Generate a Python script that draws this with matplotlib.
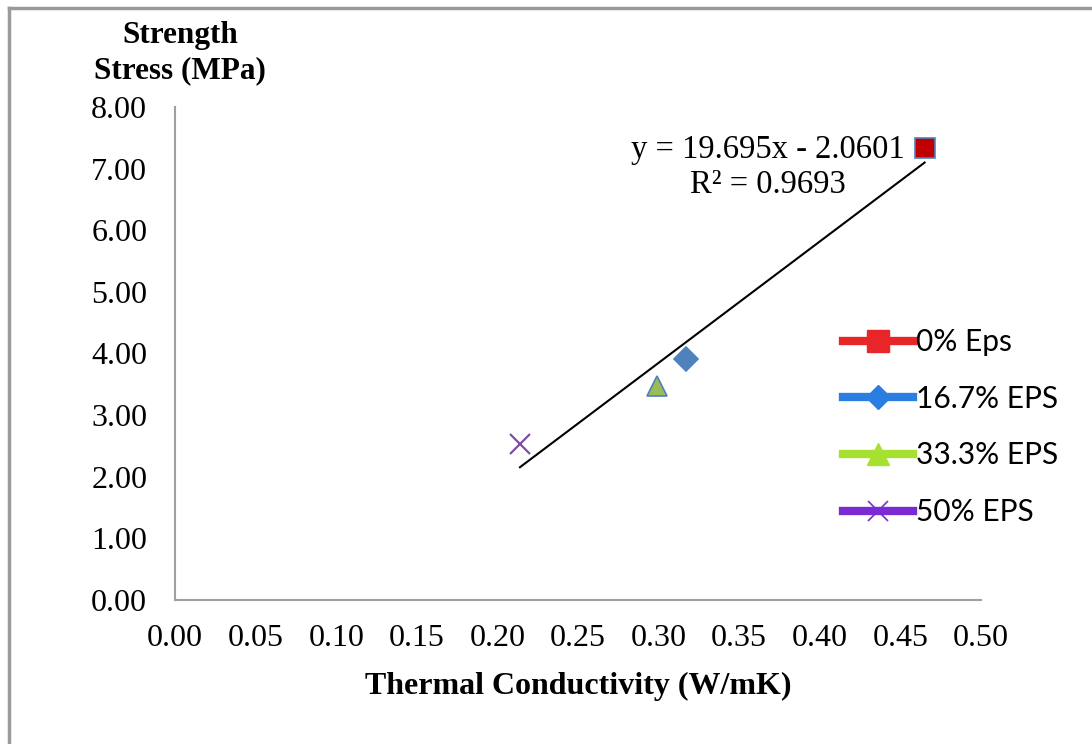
import matplotlib
matplotlib.use("Agg")
import matplotlib.pyplot as plt
from matplotlib.lines import Line2D
import numpy as np

series = ["0% Eps", "16.7% EPS", "33.3% EPS", "50% EPS"]
conductivity = [0.465, 0.317, 0.299, 0.214]
strength = [7.33, 3.91, 3.47, 2.53]
slope, intercept = 19.695, -2.0601
r2 = 0.9693

marker_face = ["#C00000", "#4F81BD", "#9BBB59", "#7F4FA0"]
marker_edge = ["#4F81BD", "#4F81BD", "#4F81BD", "#7F4FA0"]
markers = ["s", "D", "^", "x"]
legend_colors = ["#E8262A", "#2A7DE1", "#A5E12E", "#7A2BD3"]

plt.rcParams["font.family"] = ["Liberation Serif", "DejaVu Serif"]

fig = plt.figure(figsize=(10.92, 7.44), dpi=100)
ax = fig.add_axes([175/1092, 1 - 600/744, (981-175)/1092, (600-107)/744])

for i in range(len(series)):
    if markers[i] == "x":
        ax.plot(conductivity[i], strength[i], marker="x", color=marker_face[i],
                markersize=15, markeredgewidth=1.6, linestyle="none", zorder=3)
    else:
        ax.plot(conductivity[i], strength[i], marker=markers[i], markerfacecolor=marker_face[i],
                markeredgecolor=marker_edge[i], markersize=14 if markers[i] != "D" else 12,
                markeredgewidth=1.2, linestyle="none", zorder=3)

xs = np.array([min(conductivity), max(conductivity)])
ax.plot(xs, slope * xs + intercept, color="black", linewidth=1.5, zorder=2)

ax.text(0.368, 7.02, f"y = {slope}x - {abs(intercept)}\nR² = {r2}", ha="center", va="center",
        fontsize=23.5, linespacing=1.22)

ax.set_xlim(0, 0.5)
ax.set_ylim(0, 8)
ax.set_xticks(np.arange(0, 0.51, 0.05))
ax.set_yticks(np.arange(0, 8.1, 1))
ax.set_xticklabels([f"{v:.2f}" for v in np.arange(0, 0.51, 0.05)])
ax.set_yticklabels([f"{v:.2f}" for v in np.arange(0, 8.1, 1)])
ax.tick_params(axis="x", length=0, labelsize=23, pad=17)
ax.tick_params(axis="y", length=0, labelsize=23, pad=20)
for s in ["top", "right"]:
    ax.spines[s].set_visible(False)
for s in ["left", "bottom"]:
    ax.spines[s].set_color("#A0A0A0")
    ax.spines[s].set_linewidth(1.5)

ax.set_xlabel("Thermal Conductivity (W/mK)", fontsize=23, fontweight="bold", labelpad=14)
fig.text(180/1092, 1 - 53/744, "Strength\nStress (MPa)", ha="center", va="center",
         fontsize=22.5, fontweight="bold", linespacing=1.3)

handles = []
for i in range(len(series)):
    if markers[i] == "x":
        h = Line2D([], [], color=legend_colors[i], linewidth=6, marker="x",
                   markersize=15, markeredgewidth=1.2)
    else:
        h = Line2D([], [], color=legend_colors[i], linewidth=6, marker=markers[i],
                   markersize=16 if markers[i] != "D" else 12)
    handles.append(h)
leg = ax.legend(handles, series, loc="center left", bbox_to_anchor=(0.829, 0.351),
                frameon=False, prop={"family": ["Lato", "DejaVu Sans"], "size": 21.5},
                handlelength=2.35, handletextpad=0.1, labelspacing=0.96,
                borderaxespad=0, borderpad=0)

# outer border (left and top visible)
fig.add_artist(Line2D([9/1092, 9/1092], [0, 1 - 8/744], color="#9A9A9A", linewidth=2.5, transform=fig.transFigure))
fig.add_artist(Line2D([9/1092, 1], [1 - 8/744, 1 - 8/744], color="#9A9A9A", linewidth=2.5, transform=fig.transFigure))

fig.savefig("out.png", dpi=100)
